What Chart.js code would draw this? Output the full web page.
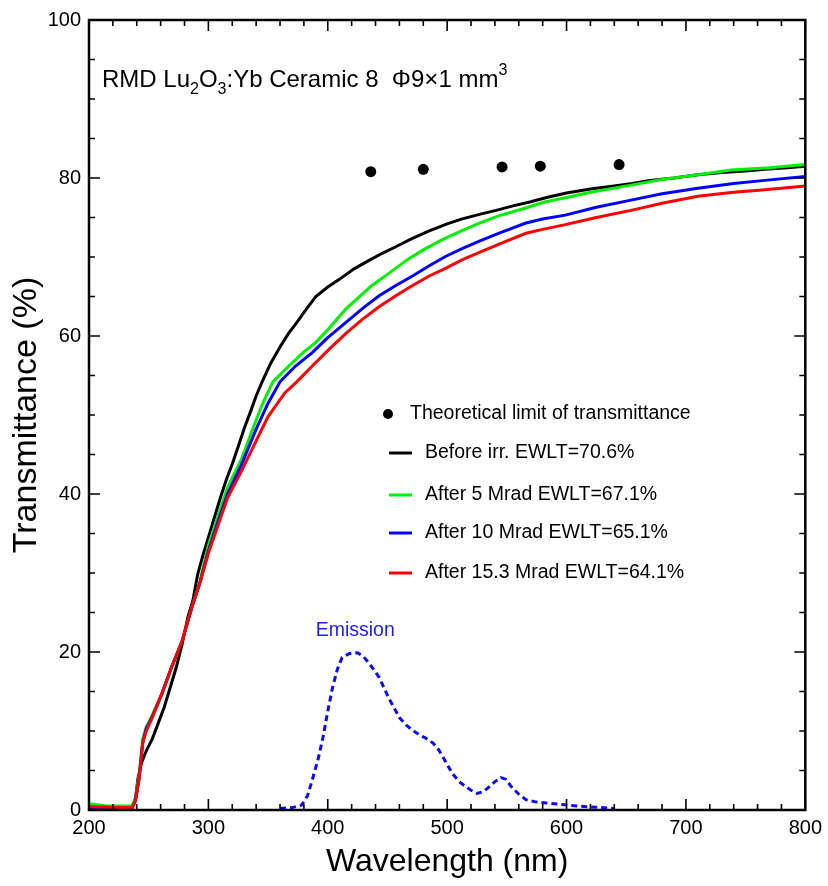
<!DOCTYPE html>
<html>
<head>
  <meta charset="utf-8" />
  <title>Lu2O3:Yb transmittance</title>
  <script src="https://cdn.jsdelivr.net/npm/chart.js@4.4.1/dist/chart.umd.min.js"></script>
  <style>
    body { margin: 0; background: #ffffff; }
    #wrap { width: 828px; height: 886px; }
  </style>
</head>
<body>
  <div id="wrap"><canvas id="trans" width="828" height="886"></canvas></div>
  <script>
    // before irradiation
    var wlBefore = [200, 225, 236, 239, 241, 244, 248, 253, 258, 263, 268, 273, 278, 283, 287, 291, 295, 300, 305, 310, 315, 320, 325, 330, 335, 340, 345, 352, 360, 367, 374, 382, 390, 400, 410, 422, 435, 446, 457, 470, 485, 500, 512, 527, 541, 556, 570, 585, 600, 620, 640, 655, 670, 690, 710, 730, 750, 766, 785, 800];
    var tBefore = [0.3, 0.2, 0.3, 1.5, 4.0, 6.0, 7.5, 9.0, 11.0, 13.0, 15.5, 18.0, 21.0, 24.5, 26.5, 29.8, 32.0, 34.5, 37.0, 39.5, 41.8, 43.8, 46.0, 48.3, 50.3, 52.4, 54.2, 56.5, 58.6, 60.3, 61.7, 63.4, 65.0, 66.2, 67.2, 68.5, 69.6, 70.5, 71.3, 72.3, 73.3, 74.2, 74.8, 75.4, 75.9, 76.5, 77.0, 77.6, 78.1, 78.6, 79.0, 79.3, 79.7, 80.0, 80.4, 80.7, 80.9, 81.1, 81.3, 81.5];

    // after 5 Mrad
    var wl5 = [200, 215, 236, 239, 242, 245, 248, 253, 261, 269, 278, 286, 293, 300, 308, 316, 328, 337, 345, 354, 368, 380, 390, 400, 415, 437, 450, 466, 480, 496, 512, 527, 543, 566, 580, 599, 620, 654, 680, 710, 738, 770, 800];
    var t5 = [0.8, 0.5, 0.5, 1.5, 4.5, 9.0, 10.5, 12.0, 14.7, 18.0, 21.4, 25.6, 29.0, 33.5, 37.2, 40.8, 44.5, 48.2, 51.3, 54.2, 56.3, 58.0, 59.2, 60.8, 63.4, 66.4, 67.8, 69.6, 70.9, 72.2, 73.3, 74.3, 75.2, 76.2, 76.9, 77.5, 78.2, 79.1, 79.8, 80.4, 81.0, 81.3, 81.7];

    // after 10 Mrad
    var wl10 = [200, 236, 239, 242, 245, 248, 253, 261, 269, 278, 286, 293, 300, 308, 316, 328, 340, 350, 360, 373, 387, 400, 415, 430, 443, 457, 471, 485, 499, 513, 527, 543, 566, 580, 599, 625, 654, 680, 710, 740, 766, 800];
    var t10 = [0.2, 0.2, 1.2, 4.0, 8.5, 10.3, 11.8, 14.7, 18.0, 21.4, 25.6, 28.8, 32.8, 36.5, 40.0, 43.8, 48.2, 51.5, 54.2, 56.2, 57.9, 59.8, 61.7, 63.6, 65.1, 66.4, 67.6, 68.9, 70.1, 71.1, 72.0, 73.0, 74.3, 74.8, 75.3, 76.3, 77.2, 78.0, 78.7, 79.3, 79.7, 80.2];

    // after 15.3 Mrad
    var wl15 = [200, 236, 239, 242, 245, 248, 253, 261, 269, 278, 286, 293, 300, 308, 316, 328, 339, 350, 364, 374, 387, 401, 415, 429, 443, 457, 471, 485, 499, 512, 527, 543, 566, 580, 599, 625, 654, 680, 710, 740, 766, 800];
    var t15 = [0.4, 0.3, 1.2, 4.0, 8.5, 10.0, 11.7, 14.7, 18.0, 21.4, 25.6, 28.8, 32.5, 36.0, 39.5, 43.0, 46.4, 49.8, 52.8, 54.2, 56.2, 58.3, 60.3, 62.1, 63.7, 65.1, 66.4, 67.6, 68.6, 69.6, 70.6, 71.6, 73.0, 73.5, 74.1, 75.0, 75.9, 76.8, 77.7, 78.2, 78.5, 79.0];

    // emission spectrum (arb., scaled to the % axis)
    var wlEm = [360, 370, 378, 383, 387, 392, 396, 400, 404, 408, 412, 418, 425, 430, 435, 443, 451, 460, 466, 471, 477, 482, 488, 493, 498, 504, 510, 516, 520, 525, 530, 535, 540, 545, 549, 554, 560, 566, 575, 583, 595, 610, 625, 640];
    var tEm = [0.2, 0.3, 0.6, 1.8, 3.8, 6.5, 9.2, 12.5, 15.5, 17.8, 19.3, 19.8, 19.9, 19.4, 18.5, 16.8, 14.2, 11.7, 10.7, 10.1, 9.5, 9.1, 8.5, 7.6, 6.3, 4.7, 3.6, 2.9, 2.5, 2.1, 2.3, 2.9, 3.6, 4.1, 3.9, 2.9, 2.0, 1.3, 1.0, 0.9, 0.7, 0.5, 0.35, 0.2];

    // theoretical limit
    var wlTheo = [436, 480, 546, 578, 644];
    var tTheo = [80.8, 81.1, 81.4, 81.5, 81.7];

    var legendLabels = [
      "Theoretical limit of transmittance",
      "Before irr. EWLT=70.6%",
      "After 5 Mrad EWLT=67.1%",
      "After 10 Mrad EWLT=65.1%",
      "After 15.3 Mrad EWLT=64.1%"
    ];

    function pts(xs, ys) {
      return xs.map(function (x, i) { return { x: x, y: ys[i] }; });
    }

    Chart.defaults.font.family = "'Liberation Sans', Arial, sans-serif";
    Chart.defaults.color = "#000";

    // inward ticks on all four sides + the box
    var framePlugin = {
      id: 'frame',
      afterDraw: function (chart) {
        var ctx = chart.ctx, a = chart.chartArea;
        var xs = chart.scales.x, ys = chart.scales.y;
        ctx.save();
        ctx.strokeStyle = '#000';
        ctx.lineWidth = 1.6;
        ctx.beginPath();
        for (var v = 200; v <= 800; v += 20) {
          var px = xs.getPixelForValue(v);
          var len = (v % 100 === 0) ? 11 : 6;
          ctx.moveTo(px, a.bottom); ctx.lineTo(px, a.bottom - len);
          ctx.moveTo(px, a.top); ctx.lineTo(px, a.top + len);
        }
        for (var w = 0; w <= 100; w += 5) {
          var py = ys.getPixelForValue(w);
          var l2 = (w % 20 === 0) ? 11 : 6;
          ctx.moveTo(a.left, py); ctx.lineTo(a.left + l2, py);
          ctx.moveTo(a.right, py); ctx.lineTo(a.right - l2, py);
        }
        ctx.stroke();
        ctx.lineWidth = 2.5;
        ctx.strokeRect(a.left, a.top, a.right - a.left, a.bottom - a.top);
        ctx.restore();
      }
    };

    // title text, legend and "Emission" label
    var textPlugin = {
      id: 'texts',
      afterDraw: function (chart) {
        var ctx = chart.ctx;
        var xs = chart.scales.x, ys = chart.scales.y;
        ctx.save();
        ctx.fillStyle = '#000';
        ctx.textBaseline = 'alphabetic';
        ctx.textAlign = 'left';

        // sample name with sub/superscripts
        var parts = [
          ["RMD Lu", 0], ["2", 1], ["O", 0], ["3", 1], [":Yb Ceramic 8  \u03A69\u00D71 mm", 0], ["3", -1]
        ];
        var x = 102, base = 87;
        parts.forEach(function (p) {
          if (p[1] === 0) {
            ctx.font = "24px 'Liberation Sans', Arial, sans-serif";
            ctx.fillText(p[0], x, base);
          } else {
            ctx.font = "16px 'Liberation Sans', Arial, sans-serif";
            ctx.fillText(p[0], x, base + (p[1] > 0 ? 7 : -12));
          }
          x += ctx.measureText(p[0]).width;
        });

        // legend
        ctx.font = "19.5px 'Liberation Sans', Arial, sans-serif";
        ctx.textBaseline = 'middle';
        var ds = chart.data.datasets;
        var rows = [414, 453, 495, 533, 573];
        ctx.beginPath();
        ctx.arc(388, rows[0], 5, 0, Math.PI * 2);
        ctx.fill();
        ctx.fillText(legendLabels[0], 410, rows[0]);
        for (var i = 1; i < 5; i++) {
          ctx.strokeStyle = ds[i].borderColor;
          ctx.lineWidth = 3;
          ctx.beginPath();
          ctx.moveTo(389, rows[i]); ctx.lineTo(412, rows[i]);
          ctx.stroke();
          ctx.fillStyle = '#000';
          ctx.fillText(legendLabels[i], 425, rows[i]);
        }

        // emission label
        ctx.fillStyle = '#1c1cff';
        ctx.textAlign = 'center';
        ctx.textBaseline = 'alphabetic';
        ctx.font = "19.5px 'Liberation Sans', Arial, sans-serif";
        ctx.fillText("Emission", xs.getPixelForValue(423), ys.getPixelForValue(22));
        ctx.restore();
      }
    };

    var lineBase = { showLine: true, pointRadius: 0, borderWidth: 3, fill: false, tension: 0 };

    new Chart(document.getElementById('trans'), {
      type: 'scatter',
      data: {
        datasets: [
          { label: legendLabels[0], data: pts(wlTheo, tTheo), showLine: false, pointRadius: 5.5,
            backgroundColor: '#000', borderColor: '#000', borderWidth: 0, order: 0 },
          Object.assign({ label: legendLabels[1], data: pts(wlBefore, tBefore), borderColor: '#000000', order: 4 }, lineBase),
          Object.assign({ label: legendLabels[2], data: pts(wl5, t5), borderColor: '#00ee00', order: 3 }, lineBase),
          Object.assign({ label: legendLabels[3], data: pts(wl10, t10), borderColor: '#0000ff', order: 2 }, lineBase),
          Object.assign({ label: legendLabels[4], data: pts(wl15, t15), borderColor: '#ff0000', order: 1 }, lineBase),
          Object.assign({ label: 'Emission', data: pts(wlEm, tEm), borderColor: '#0a0aff', borderDash: [6, 4], order: 5 }, lineBase)
        ]
      },
      options: {
        responsive: false,
        animation: false,
        layout: { padding: { left: 0, top: 17, right: 21, bottom: 0 } },
        plugins: { legend: { display: false }, tooltip: { enabled: false } },
        scales: {
          x: {
            type: 'linear', min: 200, max: 800,
            grid: { display: false, drawTicks: false },
            border: { display: false },
            ticks: { stepSize: 100, padding: 6, font: { size: 20 }, color: '#000' },
            title: { display: true, text: 'Wavelength (nm)', font: { size: 32 }, color: '#000', padding: { top: 0, bottom: 5 } },
            afterFit: function (s) { s.height = 76; }
          },
          y: {
            type: 'linear', min: 0, max: 100,
            grid: { display: false, drawTicks: false },
            border: { display: false },
            ticks: { stepSize: 20, padding: 8, font: { size: 20 }, color: '#000' },
            title: { display: true, text: 'Transmittance (%)', font: { size: 34 }, color: '#000', padding: { top: 6, bottom: 0 } },
            afterFit: function (s) { s.width = 89; }
          }
        }
      },
      plugins: [framePlugin, textPlugin]
    });
  </script>
</body>
</html>
